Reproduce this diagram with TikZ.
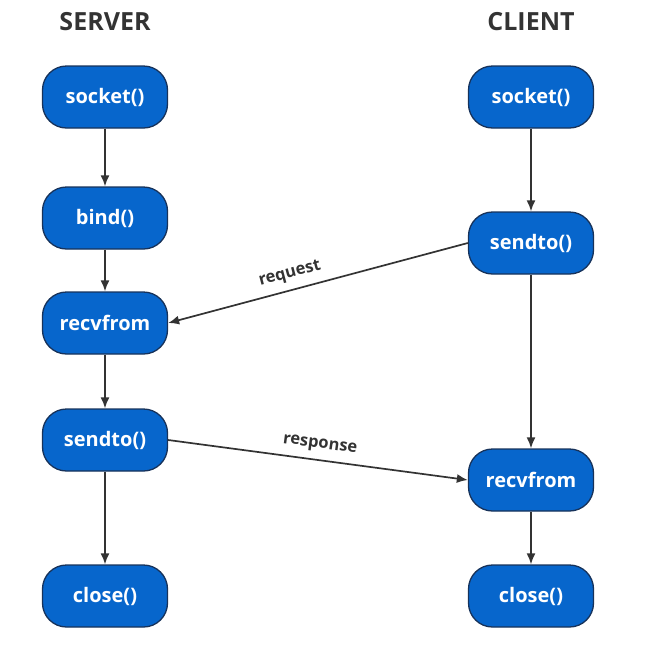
\documentclass[tikz,border=0pt]{standalone}
\usepackage{fontspec}
\setmainfont{Open Sans}
\usetikzlibrary{arrows.meta}
\definecolor{boxblue}{HTML}{0766CC}
\definecolor{boxline}{HTML}{17325A}
\definecolor{arrowgray}{HTML}{333333}
\begin{document}
\begin{tikzpicture}[x=1pt,y=-1pt,
  call/.style={draw=boxline, line width=1.3pt, fill=boxblue, rounded corners=24pt,
    minimum width=125pt, minimum height=62pt, text=white, font=\bfseries\fontsize{20}{24}\selectfont},
  flow/.style={-{Latex[length=11pt,width=9pt]}, draw=arrowgray, line width=1.7pt},
  lbl/.style={text=arrowgray, font=\bfseries\fontsize{16.5}{19}\selectfont}]
\useasboundingbox (0,0) rectangle (671,659);
\node[font=\bfseries\fontsize{25}{30}\selectfont, text=arrowgray] (srv) at (105,22) {SERVER};
\node[font=\bfseries\fontsize{25}{30}\selectfont, text=arrowgray] (cli) at (531,22) {CLIENT};
\node[call] (ssocket) at (105,97) {socket()};
\node[call] (sbind) at (105,218) {bind()};
\node[call] (srecv) at (105,323) {recvfrom};
\node[call] (ssend) at (105,440) {sendto()};
\node[call] (sclose) at (105,596) {close()};
\node[call] (csocket) at (531,97) {socket()};
\node[call] (csend) at (531,243) {sendto()};
\node[call] (crecv) at (531,480) {recvfrom};
\node[call] (cclose) at (531,596) {close()};
\draw[flow] (ssocket) -- (sbind);
\draw[flow] (sbind) -- (srecv);
\draw[flow] (srecv) -- (ssend);
\draw[flow] (ssend) -- (sclose);
\draw[flow] (csocket) -- (csend);
\draw[flow] (csend) -- (crecv);
\draw[flow] (crecv) -- (cclose);
\draw[flow] (csend.west) -- node[lbl, sloped, above=4pt, pos=0.58] {request} (srecv.east);
\draw[flow] (ssend.east) -- node[lbl, sloped, above=4pt, pos=0.5] {response} (crecv.west);
\end{tikzpicture}
\end{document}
